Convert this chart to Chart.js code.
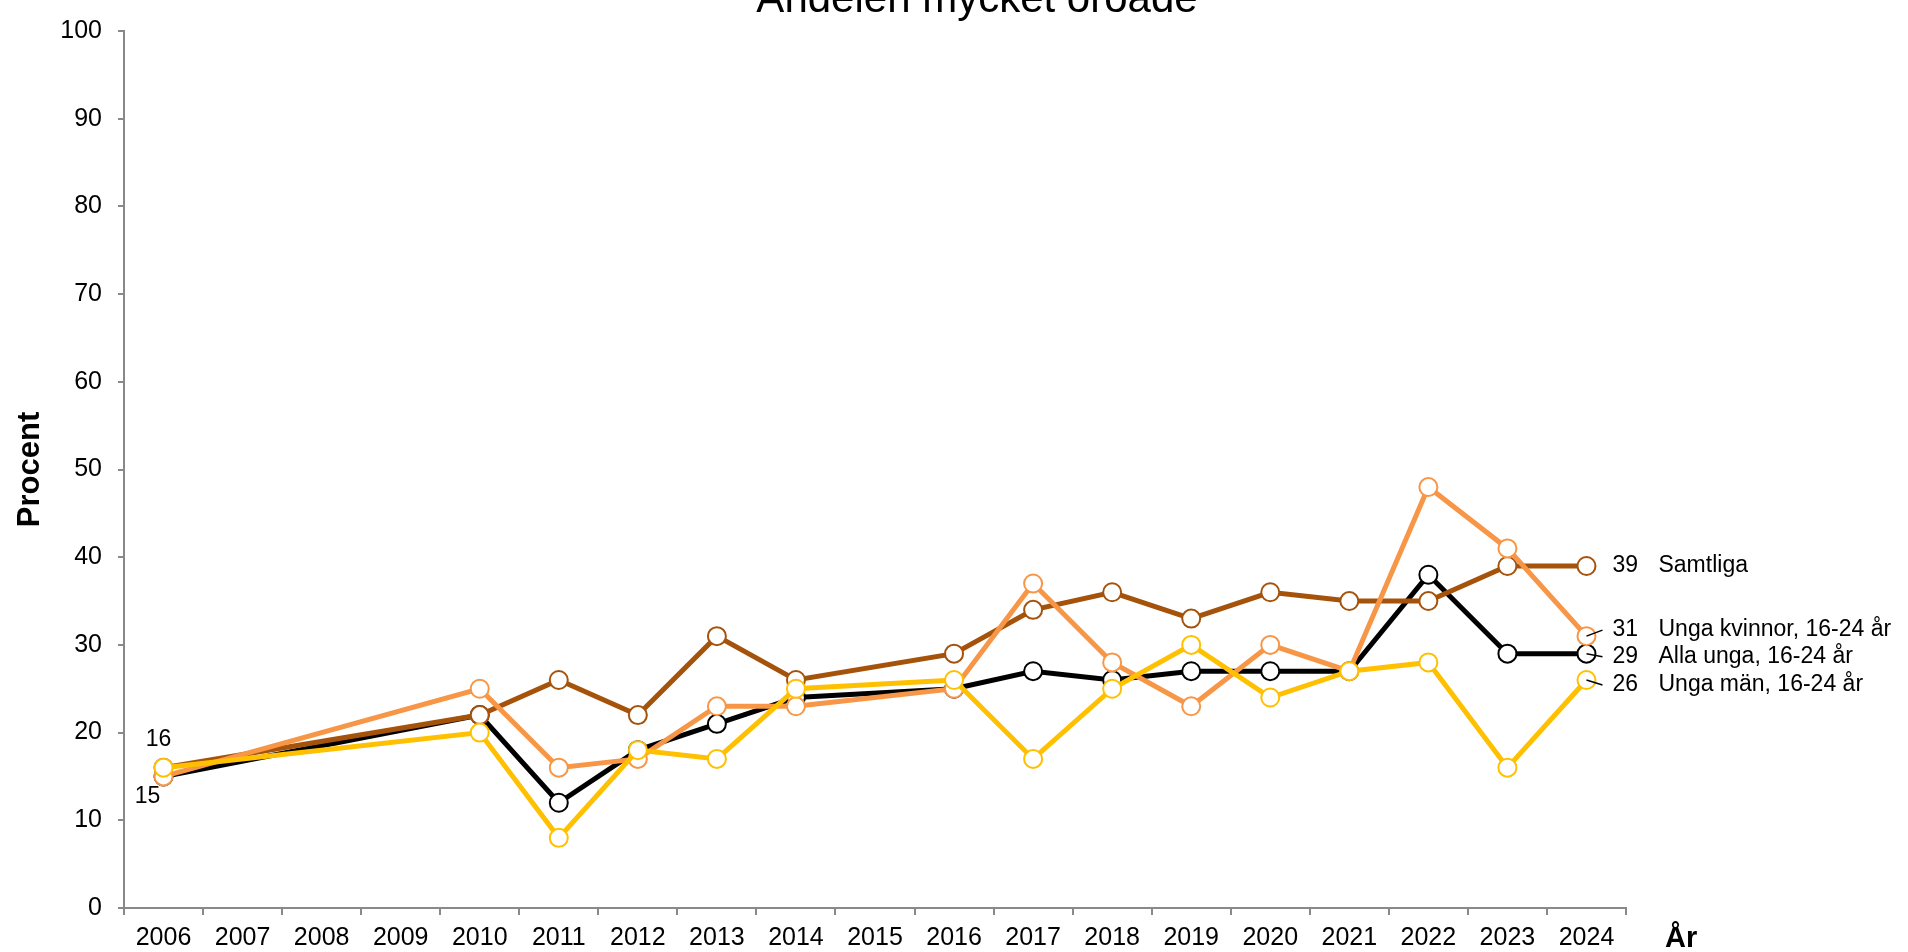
<!DOCTYPE html>
<html lang="sv">
<head>
    <meta charset="UTF-8">
    <title>Andelen mycket oroade</title>
    <script src="https://cdn.jsdelivr.net/npm/chart.js"></script>
    <style>
        body { margin: 0; background: #fff; }
    </style>
</head>
<body>
    <canvas id="myChart" width="1908" height="952"></canvas>
    <script>
        const years = ['2006', '2007', '2008', '2009', '2010', '2011', '2012', '2013', '2014', '2015',
                       '2016', '2017', '2018', '2019', '2020', '2021', '2022', '2023', '2024'];
        const yTicks = [0, 10, 20, 30, 40, 50, 60, 70, 80, 90, 100];

        const samtliga     = [16, null, null, null, 22, 26, 22, 31, 26, null, 29, 34, 36, 33, 36, 35, 35, 39, 39];
        const allaUnga     = [15, null, null, null, 22, 12, 18, 21, 24, null, 25, 27, 26, 27, 27, 27, 38, 29, 29];
        const ungaKvinnor  = [15, null, null, null, 25, 16, 17, 23, 23, null, 25, 37, 28, 23, 30, 27, 48, 41, 31];
        const ungaMan      = [16, null, null, null, 20,  8, 18, 17, 25, null, 26, 17, 25, 30, 24, 27, 28, 16, 26];

        const titleText = 'Andelen mycket oroade';
        const font = '"Liberation Sans", Arial, sans-serif';

        function series(label, data, color, endShift) {
            return {
                label: label,
                data: data,
                borderColor: color,
                backgroundColor: color,
                borderWidth: 5,
                pointRadius: 9,
                pointHoverRadius: 9,
                pointBorderWidth: 2,
                pointBackgroundColor: '#fff',
                pointBorderColor: color,
                spanGaps: true,
                tension: 0,
                endShift: endShift
            };
        }

        // first dataset is drawn on top
        const datasets = [
            series('Unga män, 16-24 år', ungaMan, '#FFC000', 5),
            series('Unga kvinnor, 16-24 år', ungaKvinnor, '#F79646', -6),
            series('Samtliga', samtliga, '#A5520B', 0),
            series('Alla unga, 16-24 år', allaUnga, '#000000', 3)
        ];

        const extraText = {
            id: 'extraText',
            afterDatasetsDraw(chart) {
                const ctx = chart.ctx;
                const x = chart.scales.x;
                const y = chart.scales.y;
                ctx.save();
                ctx.fillStyle = '#000';
                ctx.strokeStyle = '#000';
                ctx.lineWidth = 1.5;

                // title, cut at the top edge like the original
                ctx.font = '42px ' + font;
                ctx.textAlign = 'center';
                ctx.textBaseline = 'alphabetic';
                ctx.fillText(titleText, 977, 12);

                // x axis title
                ctx.font = 'bold 29px ' + font;
                ctx.textAlign = 'left';
                ctx.fillText('År', 1665, 947);

                // end labels at the last year
                const last = years.length - 1;
                ctx.font = '23px ' + font;
                ctx.textBaseline = 'middle';
                datasets.forEach((ds) => {
                    const v = ds.data[last];
                    const px = x.getPixelForValue(last);
                    const py = y.getPixelForValue(v);
                    const ly = py + ds.endShift;
                    ctx.fillText(String(v), px + 26, ly);
                    ctx.fillText(ds.label, px + 72, ly);
                    if (ds.endShift !== 0) {
                        ctx.beginPath();
                        ctx.moveTo(px, py);
                        ctx.lineTo(px + 16, ly);
                        ctx.stroke();
                    }
                });

                // first-year labels
                ctx.textAlign = 'center';
                const x0 = x.getPixelForValue(0);
                ctx.fillText(String(samtliga[0]), x0 - 5, y.getPixelForValue(samtliga[0]) - 28);
                ctx.fillText(String(allaUnga[0]), x0 - 16, y.getPixelForValue(allaUnga[0]) + 20);
                ctx.restore();
            }
        };

        new Chart(document.getElementById('myChart'), {
            type: 'line',
            data: { labels: years, datasets: datasets },
            plugins: [extraText],
            options: {
                responsive: false,
                animation: false,
                events: [],
                layout: { padding: { top: 24, right: 282, bottom: 0, left: 0 } },
                plugins: {
                    legend: { display: false },
                    tooltip: { enabled: false },
                    title: { display: false }
                },
                scales: {
                    x: {
                        offset: true,
                        grid: {
                            offset: true,
                            drawOnChartArea: false,
                            drawTicks: true,
                            tickLength: 7,
                            color: '#898989',
                            lineWidth: 2
                        },
                        border: { color: '#898989', width: 2 },
                        ticks: {
                            autoSkip: false,
                            maxRotation: 0,
                            padding: 8,
                            color: '#000',
                            font: { family: font, size: 25 }
                        },
                        afterFit(scale) { scale.height = 44; }
                    },
                    y: {
                        min: 0,
                        max: 100,
                        afterBuildTicks(scale) { scale.ticks = yTicks.map(v => ({ value: v })); },
                        grid: {
                            drawOnChartArea: false,
                            drawTicks: true,
                            tickLength: 6,
                            color: '#898989',
                            lineWidth: 2
                        },
                        border: { color: '#898989', width: 2 },
                        ticks: {
                            padding: 16,
                            color: '#000',
                            font: { family: font, size: 25 }
                        },
                        title: {
                            display: true,
                            text: 'Procent',
                            color: '#000',
                            padding: { top: 12, bottom: 0 },
                            font: { family: font, size: 31, weight: 'bold' }
                        },
                        afterFit(scale) { scale.width = 124; }
                    }
                }
            }
        });
    </script>
</body>
</html>
